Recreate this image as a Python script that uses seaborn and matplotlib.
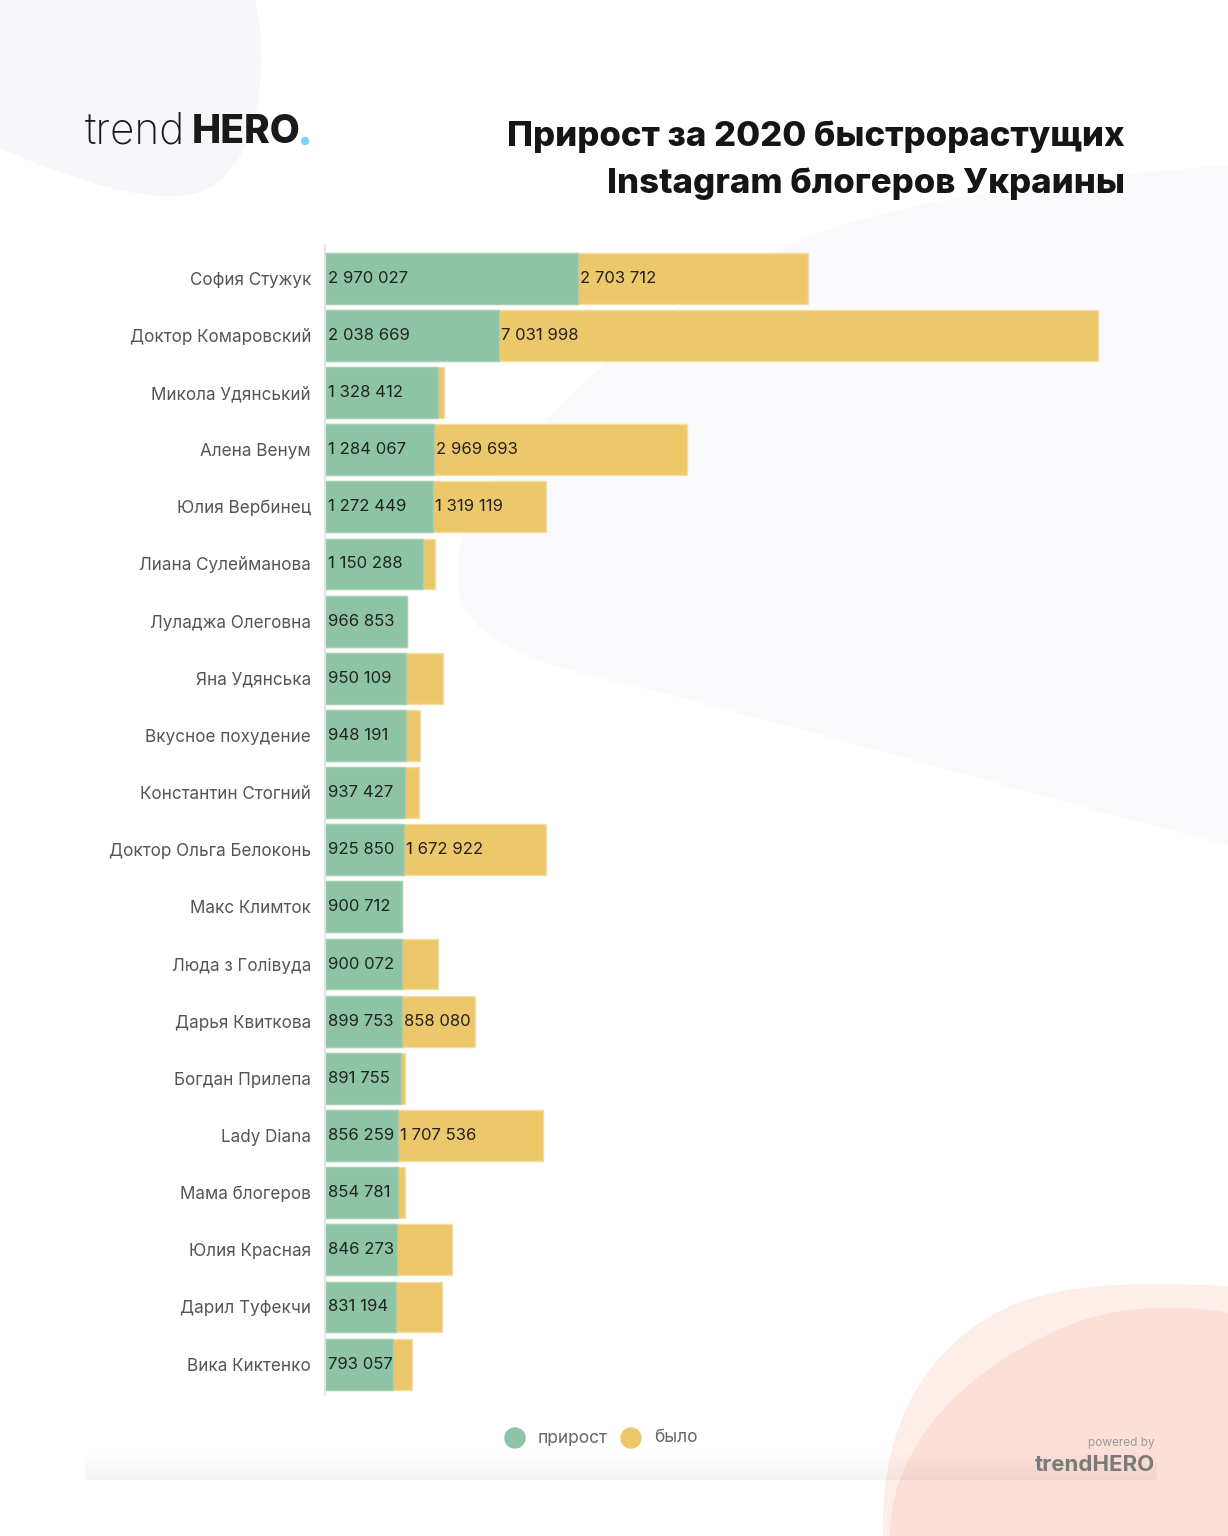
import numpy as np
import pandas as pd
import matplotlib
matplotlib.use("Agg")
import matplotlib.pyplot as plt
import seaborn as sns
from matplotlib.path import Path
from matplotlib.patches import PathPatch, Circle

# ---------------- data ----------------
names = [
    "София Стужук", "Доктор Комаровский", "Микола Удянський", "Алена Венум",
    "Юлия Вербинец", "Лиана Сулейманова", "Луладжа Олеговна", "Яна Удянська",
    "Вкусное похудение", "Константин Стогний", "Доктор Ольга Белоконь",
    "Макс Климток", "Люда з Голівуда", "Дарья Квиткова", "Богдан Прилепа",
    "Lady Diana", "Мама блогеров", "Юлия Красная", "Дарил Туфекчи", "Вика Киктенко",
]
growth = [2970027, 2038669, 1328412, 1284067, 1272449, 1150288, 966853, 950109,
          948191, 937427, 925850, 900712, 900072, 899753, 891755, 856259,
          854781, 846273, 831194, 793057]
before = [2703712, 7031998, 74000, 2969693, 1319119, 146000, 0, 438000,
          161000, 165000, 1672922, 8000, 426000, 858080, 47000, 1707536,
          90000, 650000, 540000, 223000]
series_labels = ["прирост", "было"]

GREEN = "#8DC4A6"
YELLOW = "#EDC86A"

sns.set_theme(style="white")
plt.rcParams['font.family'] = ['Inter', 'DejaVu Sans']

W, H = 1228, 1536
fig = plt.figure(figsize=(W / 100, H / 100), dpi=100)
fig.patch.set_facecolor('white')

# ---------------- background decoration ----------------
bg = fig.add_axes([0, 0, 1, 1])
bg.set_zorder(0)
bg.axis('off')

M, L, C, Z = Path.MOVETO, Path.LINETO, Path.CURVE4, Path.CLOSEPOLY


def blob(verts, codes, color, z=0):
    bg.add_patch(PathPatch(Path(verts, codes), facecolor=color, edgecolor='none', zorder=z))


# lavender top-left
blob([(0, 0), (255, 0), (270, 60), (262, 170), (200, 192), (150, 208), (60, 175), (0, 148), (0, 0)],
     [M, L, C, C, C, C, C, C, Z], "#F7F7FB")
# pale grey blob middle-right
blob([(1228, 165), (1050, 180), (900, 200), (800, 240), (650, 300), (470, 470), (458, 560),
      (450, 640), (520, 660), (650, 690), (850, 740), (1050, 800), (1228, 845), (1228, 165)],
     [M, C, C, C, C, C, C, C, C, C, C, C, C, Z], "#FAFAFC")
# peach bottom-right
blob([(883, 1536), (880, 1420), (930, 1340), (1017, 1303), (1080, 1280), (1160, 1283), (1228, 1286),
      (1228, 1536), (883, 1536)], [M, C, C, C, C, C, C, L, Z], "#FDEEE9", 1)
blob([(890, 1536), (890, 1450), (960, 1365), (1083, 1320), (1130, 1305), (1190, 1305), (1228, 1313),
      (1228, 1536), (890, 1536)], [M, C, C, C, C, C, C, L, Z], "#FCDFD6", 2)

# card bottom shadow strip
grad = np.zeros((30, 2, 4))
grad[..., 3] = np.linspace(0.0, 0.045, 30)[:, None]
bg.imshow(grad, extent=(85, 1157, 1480, 1450), aspect='auto', zorder=3, interpolation='bilinear')
bg.set_xlim(0, W)
bg.set_ylim(H, 0)

# ---------------- main chart ----------------
ax = fig.add_axes([325 / W, 1 - 1395 / H, 825 / W, 1150 / H])
ax.set_zorder(2)
ax.set_facecolor('none')

df = pd.DataFrame({"name": names, "growth": growth, "before": before})
df["total"] = df["growth"] + df["before"]

sns.barplot(data=df, y="name", x="total", color=YELLOW, saturation=1, width=0.89,
            errorbar=None, orient="h", edgecolor="#F4DD9E", linewidth=1, ax=ax)
sns.barplot(data=df, y="name", x="growth", color=GREEN, saturation=1, width=0.89,
            errorbar=None, orient="h", edgecolor="#A3D1B8", linewidth=1, ax=ax)

ax.set_xlim(0, 825 / 85.2e-6)
ax.set_ylim(len(names) - 0.46, -0.58)
ax.set_xlabel("")
ax.set_ylabel("")
ax.set_xticks([])
for s in ["top", "right", "bottom"]:
    ax.spines[s].set_visible(False)
ax.spines["left"].set_color("#E4E4E4")
ax.spines["left"].set_linewidth(1.5)
ax.tick_params(axis="y", length=0, pad=10, labelsize=12.3, labelcolor="#555555")


def fmt(v):
    return f"{v:,}".replace(",", " ")


for i, (g, b) in enumerate(zip(growth, before)):
    ax.annotate(fmt(g), xy=(0, i), xytext=(2.5, 0), textcoords="offset points",
                va="center", ha="left", fontsize=12, color="#222222")
    if b > 700000:
        ax.annotate(fmt(b), xy=(g, i), xytext=(1.5, 0), textcoords="offset points",
                    va="center", ha="left", fontsize=12, color="#222222")

# ---------------- titles & logo ----------------
bg.text(1125, 146, "Прирост за 2020 быстрорастущих", ha="right", va="baseline",
        fontsize=25, fontweight="heavy", color="#151515", zorder=5)
bg.text(1125, 193, "Instagram блогеров Украины", ha="right", va="baseline",
        fontsize=25, fontweight="heavy", color="#151515", zorder=5)

fig.canvas.draw()
r = fig.canvas.get_renderer()
t1 = bg.text(85, 143, "trend", ha="left", va="baseline", fontsize=30.5, fontweight="light",
             color="#1a1a1a", zorder=5)
x1 = t1.get_window_extent(r).x1
t2 = bg.text(x1 + 6, 143, "HERO", ha="left", va="baseline", fontsize=28, fontweight="heavy",
             color="#1a1a1a", zorder=5)
x2 = t2.get_window_extent(r).x1
bg.add_patch(Circle((x2 + 5, 141), 3.5, color="#7FD3EE", zorder=5))

# ---------------- legend ----------------
bg.add_patch(Circle((515, 1438), 10, color=GREEN, zorder=5))
bg.text(538, 1438, series_labels[0], ha="left", va="center", fontsize=12.5, color="#666666", zorder=5)
bg.add_patch(Circle((631, 1438), 10, color=YELLOW, zorder=5))
bg.text(654, 1438, series_labels[1], ha="left", va="center", fontsize=12.5, color="#666666", zorder=5)

# ---------------- powered by ----------------
bg.text(1155, 1443, "powered by", ha="right", va="center", fontsize=8.5, color="#9a9a9a", zorder=5)
bg.text(1155, 1465, "trendHERO", ha="right", va="center", fontsize=16, fontweight="bold",
        color="#7a7a7a", zorder=5)

fig.savefig("out.png", dpi=100, facecolor="white")
